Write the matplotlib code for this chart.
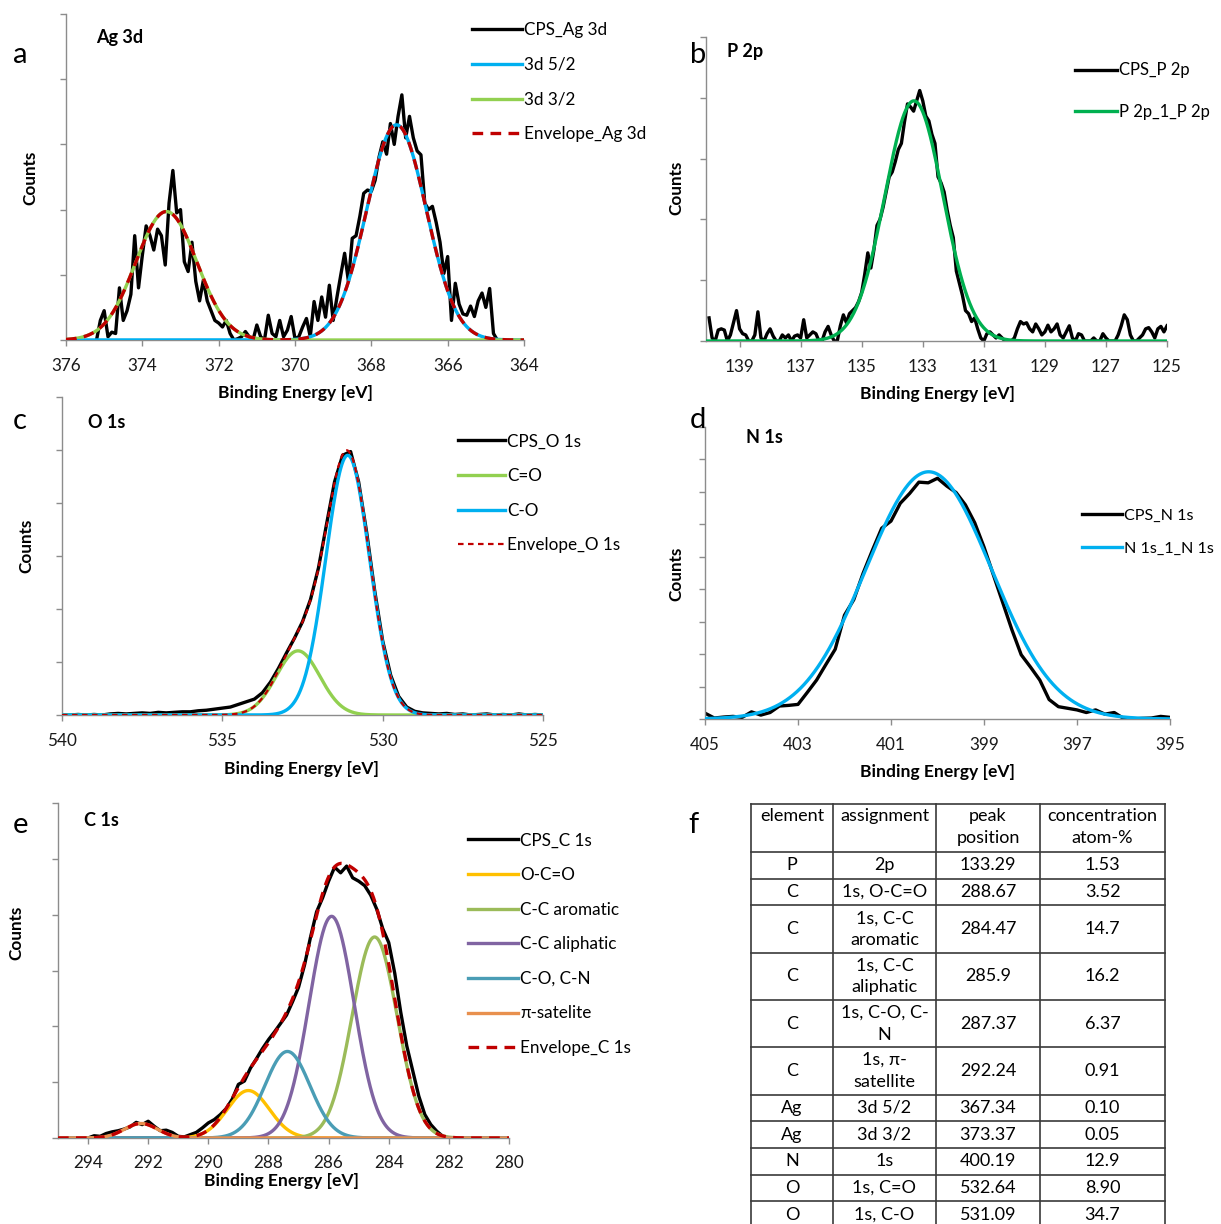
import numpy as np
import matplotlib
matplotlib.use("Agg")
import matplotlib.pyplot as plt

plt.rcParams['font.family'] = ['Lato', 'DejaVu Sans']

W, H = 1221, 1224

# ---------------- data (counts in axis units) ----------------
# (a) Ag 3d, 0.1 eV steps from 375.2 eV downwards
ag_e0, ag_de = 375.2, 0.1
ag_cps = [
    0.0, 0.3, 0.45, 0.05, 0.12, 0.1, 0.8, 0.3, 0.45, 0.7,      # 375.2
    1.6, 0.8, 1.3, 1.75, 1.6, 1.38, 1.7, 1.6, 1.15, 2.1,       # 374.2
    2.6, 1.95, 2.0, 1.2, 1.05, 1.5, 0.9, 0.6, 0.92, 0.6,       # 373.2
    0.45, 0.3, 0.26, 0.2, 0.3, 0.1, 0.0, 0.02, 0.05, 0.13,     # 372.2
    0.05, 0.0, 0.23, 0.05, 0.0, 0.38, 0.1, 0.05, 0.3, 0.05,    # 371.2
    0.15, 0.36, 0.02, 0.05, 0.2, 0.33, 0.05, 0.59, 0.3, 0.66,  # 370.2
    0.35, 0.84, 0.3, 0.66, 1.0, 1.33, 0.9, 1.56, 1.6, 1.9,     # 369.2
    2.25, 2.3, 2.28, 2.45, 2.8, 3.04, 2.85, 3.32, 3.0, 3.43,   # 368.2
    3.76, 3.1, 3.43, 3.1, 2.9, 2.84, 2.1, 2.0, 2.05, 1.8,      # 367.2
    1.5, 1.02, 1.28, 0.3, 0.87, 0.55, 0.4, 0.38, 0.52, 0.36,   # 366.2
    0.6, 0.72, 0.5, 0.79, 0.1, 0.0,                            # 365.2
]
ag_names = ['3d 5/2', '3d 3/2']
ag_pos = [367.34, 373.37]
ag_height = [3.30, 1.97]
ag_sigma = [0.78, 0.80]

# (b) P 2p, 0.1 eV steps from 140.0 eV downwards
p_e0, p_de = 140.0, 0.1
p_cps = [
    0.38, 0.05, 0.0, 0.18, 0.2, 0.18, 0.0, 0.1, 0.3, 0.5,      # 140.0
    0.2, 0.12, 0.1, 0.0, 0.0, 0.1, 0.48, 0.05, 0.0, 0.12,      # 139.0
    0.2, 0.08, 0.0, 0.0, 0.1, 0.05, 0.1, 0.0, 0.08, 0.1,       # 138.0
    0.05, 0.35, 0.05, 0.1, 0.15, 0.12, 0.0, 0.0, 0.15, 0.24,   # 137.0
    0.1, 0.0, 0.0, 0.25, 0.43, 0.3, 0.45, 0.5, 0.55, 0.65,     # 136.0
    0.8, 1.1, 1.45, 1.2, 1.5, 1.9, 2.0, 2.2, 2.45, 2.7,        # 135.0
    2.78, 2.95, 3.15, 3.25, 3.6, 3.9, 3.85, 3.78, 3.95, 4.12,  # 134.0
    3.95, 3.7, 3.62, 3.4, 3.25, 2.7, 2.6, 2.45, 2.15, 1.9,     # 133.0
    1.7, 1.15, 0.95, 0.75, 0.5, 0.45, 0.32, 0.38, 0.2, 0.05,   # 132.0
    0.0, 0.12, 0.15, 0.1, 0.05, 0.1, 0.05, 0.0, 0.0, 0.0,      # 131.0
    0.05, 0.2, 0.32, 0.28, 0.3, 0.2, 0.15, 0.28, 0.2, 0.1,     # 130.0
    0.15, 0.26, 0.15, 0.2, 0.28, 0.1, 0.05, 0.15, 0.25, 0.05,  # 129.0
    0.0, 0.12, 0.1, 0.0, 0.0, 0.0, 0.05, 0.0, 0.0, 0.12,       # 128.0
    0.05, 0.0, 0.0, 0.0, 0.1, 0.25, 0.43, 0.35, 0.1, 0.0,      # 127.0
    0.0, 0.05, 0.1, 0.2, 0.22, 0.15, 0.05, 0.2, 0.24, 0.15,    # 126.0
    0.25,                                                      # 125.0
]
p_pos, p_height, p_sigma = 133.29, 3.95, 0.95

# (c) O 1s, 0.25 eV steps from 540.0 eV downwards
o_e0, o_de = 540.0, 0.25
o_cps = [
    0.0, 0.0, 0.01, 0.0, 0.01, 0.0, 0.02, 0.03, 0.02, 0.03,    # 540.0
    0.04, 0.03, 0.05, 0.04, 0.05, 0.06, 0.06, 0.08, 0.09, 0.11,  # 537.5
    0.13, 0.15, 0.2, 0.25, 0.3, 0.42, 0.62, 0.88, 1.17, 1.45,  # 535.0
    1.76, 2.18, 2.78, 3.6, 4.4, 4.9, 4.97, 4.4, 3.45, 2.35,    # 532.5
    1.4, 0.75, 0.35, 0.15, 0.07, 0.04, 0.03, 0.02, 0.03, 0.01,  # 530.0
    0.02, 0.0, 0.01, 0.02, 0.0, 0.01, 0.0, 0.02, 0.0, 0.01,    # 527.5
    0.0,                                                       # 525.0
]
o_names = ['C=O', 'C-O']
o_pos = [532.64, 531.09]
o_height = [1.21, 4.90]
o_sigma = [0.68, 0.68]

# (d) N 1s, 0.2 eV steps from 405.0 eV downwards
n_e0, n_de = 405.0, 0.2
n_cps = [
    0.18, 0.03, 0.06, 0.08, 0.05, 0.22, 0.12, 0.2, 0.4, 0.42,  # 405.0
    0.45, 0.82, 1.2, 1.68, 2.15, 3.2, 3.68, 4.49, 5.2, 5.88,   # 403.0
    6.1, 6.65, 6.95, 7.3, 7.28, 7.42, 7.18, 6.98, 6.6, 6.05,   # 401.0
    5.3, 4.45, 3.6, 2.75, 1.98, 1.6, 1.2, 0.6, 0.38, 0.33,     # 399.0
    0.28, 0.2, 0.28, 0.15, 0.2, 0.02, 0.0, 0.02, 0.03, 0.08,   # 397.0
    0.05,                                                      # 395.0
]
n_pos, n_height, n_sigma = 400.19, 7.62, 1.35

# (e) C 1s, 0.2 eV steps from 294.0 eV downwards
c_e0, c_de = 294.0, 0.2
c_cps = [
    0.0, 0.04, 0.03, 0.08, 0.11, 0.13, 0.16, 0.2, 0.28, 0.24,  # 294.0
    0.3, 0.21, 0.13, 0.14, 0.1, 0.03, 0.02, 0.06, 0.1, 0.18,   # 292.0
    0.27, 0.33, 0.42, 0.53, 0.7, 0.96, 1.02, 1.25, 1.42, 1.6,  # 290.0
    1.76, 1.9, 2.05, 2.2, 2.44, 2.7, 3.1, 3.6, 4.05, 4.3,      # 288.0
    4.6, 4.85, 4.75, 4.87, 4.66, 4.6, 4.52, 4.35, 4.1, 3.75,   # 286.0
    3.5, 2.95, 2.25, 1.65, 1.2, 0.75, 0.42, 0.24, 0.12, 0.03,  # 284.0
    0.0,                                                       # 282.0
]
c_names = ['O-C=O', 'C-C aromatic', 'C-C aliphatic', 'C-O, C-N', 'π-satelite']
c_pos = [288.67, 284.47, 285.90, 287.37, 292.24]
c_height = [0.85, 3.60, 3.97, 1.55, 0.26]
c_sigma = [0.70, 0.75, 0.75, 0.75, 0.55]

# (f) table
tab_header = ['element', 'assignment', 'peak\nposition', 'concentration\natom-%']
tab_element = ['P', 'C', 'C', 'C', 'C', 'C', 'Ag', 'Ag', 'N', 'O', 'O']
tab_assign = ['2p', '1s, O-C=O', '1s, C-C\naromatic', '1s, C-C\naliphatic',
              '1s, C-O, C-\nN', '1s, π-\nsatellite', '3d 5/2', '3d 3/2', '1s',
              '1s, C=O', '1s, C-O']
tab_peak = ['133.29', '288.67', '284.47', '285.9', '287.37', '292.24',
            '367.34', '373.37', '400.19', '532.64', '531.09']
tab_conc = ['1.53', '3.52', '14.7', '16.2', '6.37', '0.91',
            '0.10', '0.05', '12.9', '8.90', '34.7']

# ---------------- colours ----------------
BLUE = '#00B0F0'
LGREEN = '#92D050'
PGREEN = '#00B050'
RED = '#C00000'
C_COLORS = ['#FFC000', '#9BBB59', '#8064A2', '#4A9DB5', '#E8904E']
GRAY = '#8C8C8C'
FS = 12.3      # legend
TFS = 12.3     # tick labels

fig = plt.figure(figsize=(W / 100, H / 100), dpi=100)


def add_ax(l, t, r, b):
    return fig.add_axes([l / W, 1 - b / H, (r - l) / W, (b - t) / H])


def ftext(x, y, s, **kw):
    kw.setdefault('va', 'center')
    fig.text(x / W, 1 - y / H, s, **kw)


def gauss(x, c, h, s):
    return h * np.exp(-(x - c) ** 2 / (2 * s ** 2))


def energies(e0, de, vals):
    return e0 - de * np.arange(len(vals))


def style(ax, xlim, xticks, ymax):
    ax.set_xlim(*xlim)
    ax.set_ylim(0, ymax)
    ax.set_xticks(list(xticks))
    ax.set_xticklabels([str(v) for v in xticks])
    ax.set_yticks(np.arange(0, ymax + 1))
    ax.set_yticklabels([])
    for s in ['top', 'right']:
        ax.spines[s].set_visible(False)
    for s in ['left', 'bottom']:
        ax.spines[s].set_color(GRAY)
        ax.spines[s].set_linewidth(1.0)
    ax.tick_params(colors=GRAY, labelcolor='#1a1a1a', length=4, width=1,
                   labelsize=TFS, pad=9)
    ax.patch.set_alpha(0)


def legend(ax, x, yc, hl, pitch, fs=FS):
    fpx = fs * 100 / 72
    ax.legend(loc='upper left', bbox_to_anchor=(x / W, 1 - (yc - 0.33 * fpx) / H),
              bbox_transform=fig.transFigure, frameon=False, borderpad=0,
              borderaxespad=0, handlelength=hl / fpx, handletextpad=0.12,
              labelspacing=(pitch - 0.9 * fpx) / fpx, fontsize=fs)


def labels(letter, lxy, title, txy, xl_xy, cnt_xy):
    ftext(*lxy, letter, fontsize=21, ha='center')
    ftext(*txy, title, fontsize=13, fontweight='bold', ha='left')
    ftext(*xl_xy, 'Binding Energy [eV]', fontsize=12.6, fontweight='bold', ha='center')
    ftext(*cnt_xy, 'Counts', fontsize=12.3, fontweight='bold', ha='center', rotation=90)


LW = 2.4

# ---- (a) Ag 3d ----
ax = add_ax(66, 14, 524, 340)
style(ax, (376, 364), range(376, 363, -2), 5)
x = np.linspace(376, 364, 800)
ax.plot(energies(ag_e0, ag_de, ag_cps), ag_cps, color='k', lw=LW, label='CPS_Ag 3d', zorder=2)
comps = [gauss(x, c, h, s) for c, h, s in zip(ag_pos, ag_height, ag_sigma)]
ax.plot(x, comps[0], color=BLUE, lw=LW, label=ag_names[0], zorder=3)
ax.plot(x, comps[1], color=LGREEN, lw=LW, label=ag_names[1], zorder=3.5)
m = x > 371.3
ax.plot(x[m], comps[0][m], color=BLUE, lw=LW, zorder=3.6)
ax.plot(x, comps[0] + comps[1], color=RED, lw=LW, dashes=(3.2, 2.2),
        label='Envelope_Ag 3d', zorder=5)
legend(ax, 472, 28, 50, 34)
labels('a', (20, 55), 'Ag 3d', (96, 38), (295, 393), (30, 178))

# ---- (b) P 2p ----
ax = add_ax(706, 37, 1167, 341)
style(ax, (140.1, 125), range(139, 124, -2), 5)
x = np.linspace(140.1, 125, 800)
ax.plot(energies(p_e0, p_de, p_cps), p_cps, color='k', lw=LW, label='CPS_P 2p', zorder=2)
ax.plot(x, gauss(x, p_pos, p_height, p_sigma), color=PGREEN, lw=LW,
        label='P 2p_1_P 2p', zorder=3)
legend(ax, 1075, 68, 42, 40, fs=12.0)
labels('b', (698, 55), 'P 2p', (727, 52), (937, 394), (676, 188))

# ---- (c) O 1s ----
ax = add_ax(62, 397, 543, 715)
style(ax, (540, 525), range(540, 524, -5), 6)
x = np.linspace(540, 525, 800)
ax.plot(energies(o_e0, o_de, o_cps), o_cps, color='k', lw=LW, label='CPS_O 1s', zorder=2)
comps = [gauss(x, c, h, s) for c, h, s in zip(o_pos, o_height, o_sigma)]
ax.plot(x, comps[0], color=LGREEN, lw=LW, label=o_names[0], zorder=3)
ax.plot(x, comps[1], color=BLUE, lw=LW, label=o_names[1], zorder=3.5)
ax.plot(x, comps[0] + comps[1], color=RED, lw=1.6, dashes=(2.5, 2.0),
        label='Envelope_O 1s', zorder=5)
legend(ax, 458, 439, 47, 34)
labels('c', (20, 421), 'O 1s', (88, 422), (302, 769), (26, 546))

# ---- (d) N 1s ----
ax = add_ax(705, 427, 1170, 719)
style(ax, (405, 395), range(405, 394, -2), 9)
x = np.linspace(405, 395, 800)
ax.plot(energies(n_e0, n_de, n_cps), n_cps, color='k', lw=LW, label='CPS_N 1s', zorder=2)
ax.plot(x, gauss(x, n_pos, n_height, n_sigma), color=BLUE, lw=LW,
        label='N 1s_1_N 1s', zorder=3)
legend(ax, 1082, 514, 40, 33, fs=11.6)
labels('d', (698, 420), 'N 1s', (746, 437), (937, 772), (676, 574))

# ---- (e) C 1s ----
ax = add_ax(58, 803, 509, 1138)
style(ax, (295, 280), range(294, 279, -2), 6)
ax.tick_params(axis='x', pad=8)
x = np.linspace(295, 280, 800)
ax.plot(energies(c_e0, c_de, c_cps), c_cps, color='k', lw=LW, label='CPS_C 1s', zorder=2)
env = np.zeros_like(x)
for i, (name, c, h, s) in enumerate(zip(c_names, c_pos, c_height, c_sigma)):
    y = gauss(x, c, h, s)
    env += y
    ax.plot(x, y, color=C_COLORS[i], lw=LW, label=name, zorder=3 + 0.1 * i)
ax.plot(x, env, color=RED, lw=LW, dashes=(3.2, 2.2), label='Envelope_C 1s', zorder=5)
legend(ax, 468, 838, 50, 34)
labels('e', (20, 825), 'C 1s', (84, 820), (282, 1181), (16, 933))

# ---- (f) table ----
ftext(693, 825, 'f', fontsize=21, ha='center')
axt = fig.add_axes([0, 0, 1, 1])
axt.set_xlim(0, W)
axt.set_ylim(H, 0)
axt.axis('off')
col_x = [751, 833, 936, 1040, 1165]
row_h = [48] + [47.3 if '\n' in a else 26.7 for a in tab_assign]
row_y = np.concatenate([[804], 804 + np.cumsum(row_h)])
LC = '#3a3a3a'
for yy in row_y:
    axt.plot([col_x[0], col_x[-1]], [yy, yy], color=LC, lw=1.2, clip_on=False)
for xx in col_x:
    axt.plot([xx, xx], [row_y[0], row_y[-1]], color=LC, lw=1.2, clip_on=False)
for j, head in enumerate(tab_header):
    axt.text((col_x[j] + col_x[j + 1]) / 2, row_y[0] + 4, head, ha='center', va='top',
             fontsize=13, linespacing=1.45)
for i in range(len(tab_element)):
    yc = (row_y[i + 1] + row_y[i + 2]) / 2
    for j, col in enumerate([tab_element, tab_assign, tab_peak, tab_conc]):
        axt.text((col_x[j] + col_x[j + 1]) / 2, yc, col[i], ha='center', va='center',
                 fontsize=13, linespacing=1.45)

fig.savefig('out.png', dpi=100)
